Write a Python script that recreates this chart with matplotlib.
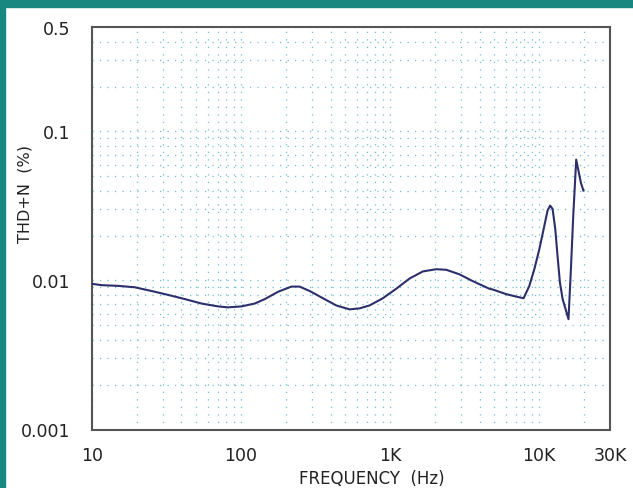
import matplotlib
matplotlib.use("Agg")
import matplotlib.pyplot as plt
from matplotlib.patches import Rectangle
from matplotlib.ticker import FixedLocator, LogLocator, NullFormatter

# THD+N vs frequency
freq = [10, 11.7, 15.1, 19.5, 25.2, 32.6, 42.2, 54.6, 70.5, 82, 101, 124, 145,
        178, 219, 248, 290, 356, 437, 537, 627, 731, 898, 1104, 1356, 1665,
        2046, 2388, 2932, 3600, 4656, 4900, 6030, 7030, 7900, 8630, 9320,
        10070, 10870, 11440, 11900, 12360, 12890, 13340, 13840, 14430, 15800,
        16400, 17000, 17800, 18360, 19140, 19900]
thd = [0.0095, 0.0093, 0.0092, 0.0090, 0.0085, 0.0080, 0.0075, 0.0070,
       0.0067, 0.0066, 0.0067, 0.0070, 0.0075, 0.0084, 0.0091, 0.0091,
       0.0085, 0.0076, 0.0068, 0.0064, 0.0065, 0.0068, 0.0076, 0.0088,
       0.0103, 0.0115, 0.0119, 0.0118, 0.0110, 0.0099, 0.0088, 0.0087,
       0.0081, 0.0078, 0.0076, 0.0092, 0.0119, 0.0162, 0.0232, 0.0295,
       0.0318, 0.0302, 0.0220, 0.0146, 0.0097, 0.0075, 0.0055, 0.0119,
       0.0270, 0.0647, 0.0555, 0.0452, 0.0401]

x_ticks = [10, 100, 1000, 10000, 30000]
x_labels = ["10", "100", "1K", "10K", "30K"]
y_ticks = [0.001, 0.01, 0.1, 0.5]
y_labels = ["0.001", "0.01", "0.1", "0.5"]

teal = "#17877f"
grid_col = "#6fbfd2"
line_col = "#2c2f6c"

plt.rcParams["font.family"] = ["DejaVu Sans"]

fig = plt.figure(figsize=(6.33, 4.89), dpi=100)
ax = fig.add_axes([91.7 / 633, 1 - 430.5 / 489, (610 - 91.7) / 633, (430.5 - 28.3) / 489])

ax.plot(freq, thd, color=line_col, lw=1.5, zorder=3)

ax.set_xscale("log")
ax.set_yscale("log")
ax.set_xlim(10, 30000)
ax.set_ylim(0.001, 0.5)

ax.xaxis.set_major_locator(FixedLocator(x_ticks))
ax.set_xticklabels(x_labels)
ax.xaxis.set_minor_locator(LogLocator(base=10, subs=range(2, 10), numticks=20))
ax.xaxis.set_minor_formatter(NullFormatter())
ax.yaxis.set_major_locator(FixedLocator(y_ticks))
ax.set_yticklabels(y_labels)
ax.yaxis.set_minor_locator(LogLocator(base=10, subs=range(2, 10), numticks=20))
ax.yaxis.set_minor_formatter(NullFormatter())

ax.tick_params(which="both", length=0, labelsize=12.5, colors="#222222")
ax.tick_params(axis="x", pad=12)
ax.tick_params(axis="y", pad=15)

ax.grid(which="both", color=grid_col, linestyle=(0, (1, 5)), linewidth=0.9)
for s in ax.spines.values():
    s.set_color("#555555")
    s.set_linewidth(1.5)

fig.text(371.7 / 633, 1 - 479.5 / 489, "FREQUENCY  (Hz)", ha="center", va="center",
         fontsize=12, color="#222222")
fig.text(25.5 / 633, 1 - 194 / 489, "THD+N  (%)", ha="center", va="center",
         rotation=90, fontsize=11.5, color="#222222")

# teal frame strips on the left and top
fig.patches.append(Rectangle((0, 0), 5 / 633, 1, transform=fig.transFigure,
                             color=teal, zorder=0))
fig.patches.append(Rectangle((0, 1 - 7.5 / 489), 1, 7.5 / 489, transform=fig.transFigure,
                             color=teal, zorder=0))

fig.savefig("out.png", dpi=100)
